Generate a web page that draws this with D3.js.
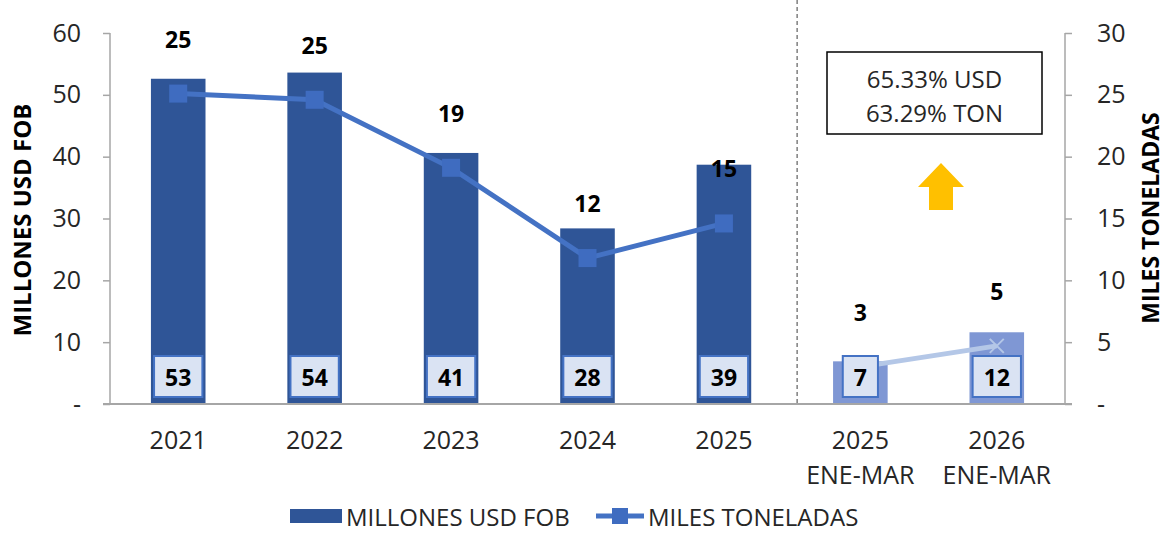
<!DOCTYPE html>
<html>
<head>
<meta charset="utf-8">
<script src="https://cdn.jsdelivr.net/npm/d3@7"></script>
<style>
  body { margin: 0; background: #fff; }
  svg { font-family: "Open Sans", sans-serif; }
</style>
</head>
<body>
<svg id="chart"></svg>
<script>
// Data
const categories = ["2021", "2022", "2023", "2024", "2025", "2025|ENE-MAR", "2026|ENE-MAR"];
const usdFob = [52.6, 53.6, 40.6, 28.4, 38.7, 6.9, 11.6];      // millones USD FOB
const tons = [25.1, 24.6, 19.1, 11.8, 14.6, 3.0, 4.7];          // miles toneladas
const partial = [false, false, false, false, false, true, true]; // ENE-MAR periods
const leftTicks = [0, 10, 20, 30, 40, 50, 60];
const rightTicks = [0, 5, 10, 15, 20, 25, 30];
const noteLines = ["65.33% USD", "63.29% TON"];

const width = 1168, height = 534;
const plot = { left: 110, right: 1065, top: 33, bottom: 404 };

const svg = d3.select("#chart").attr("width", width).attr("height", height);

const x = d3.scaleBand().domain(categories).range([plot.left, plot.right]).padding(0);
const yL = d3.scaleLinear().domain([0, 60]).range([plot.bottom, plot.top]);
const yR = d3.scaleLinear().domain([0, 30]).range([plot.bottom, plot.top]);
const cx = c => x(c) + x.bandwidth() / 2;
const barW = x.bandwidth() * 0.4;

const dark = "#2f5597", light = "#7f97d4", lineCol = "#4472c4", lineLight = "#b4c7e7";
const axisCol = "#a6a6a6";

// Axes
const fmtTick = d => d === 0 ? "-" : d;
const leftAxis = svg.append("g")
    .attr("transform", `translate(${plot.left},0)`)
    .call(d3.axisLeft(yL).tickValues(leftTicks).tickFormat(fmtTick).tickSize(7).tickPadding(22));
const rightAxis = svg.append("g")
    .attr("transform", `translate(${plot.right},0)`)
    .call(d3.axisRight(yR).tickValues(rightTicks).tickFormat(fmtTick).tickSize(7).tickPadding(25));
[leftAxis, rightAxis].forEach(g => {
    g.select(".domain").attr("stroke", axisCol).attr("stroke-width", 1.5)
        .attr("d", `M0,${plot.top}V${plot.bottom}`);
    g.selectAll(".tick line").attr("stroke", axisCol).attr("stroke-width", 1.5);
    g.selectAll(".tick text").attr("fill", "#262626").style("font-size", "25px")
        .style("font-family", "Open Sans");
});

// Category labels
const xLabels = svg.append("g");
categories.forEach(c => {
    const t = xLabels.append("text")
        .attr("x", cx(c))
        .attr("text-anchor", "middle")
        .attr("fill", "#262626")
        .style("font-size", "25px");
    c.split("|").forEach((part, i) => {
        t.append("tspan").attr("x", cx(c)).attr("y", 449 + i * 35).text(part);
    });
});

// Divider
svg.append("line")
    .attr("x1", x(categories[5]) + 5).attr("x2", x(categories[5]) + 5)
    .attr("y1", 0).attr("y2", plot.bottom)
    .attr("stroke", "#7f7f7f").attr("stroke-width", 1.5)
    .attr("stroke-dasharray", "4,3");

// Bars
svg.selectAll(".bar")
    .data(categories)
    .enter().append("rect")
    .attr("class", "bar")
    .attr("x", c => cx(c) - barW / 2)
    .attr("width", barW)
    .attr("y", (c, i) => yL(usdFob[i]))
    .attr("height", (c, i) => plot.bottom - yL(usdFob[i]))
    .attr("fill", (c, i) => partial[i] ? light : dark);

// Baseline
svg.append("line")
    .attr("x1", plot.left - 7).attr("x2", plot.right + 7)
    .attr("y1", plot.bottom).attr("y2", plot.bottom)
    .attr("stroke", axisCol).attr("stroke-width", 2);

// Line
const pts = categories.map((c, i) => [cx(c), yR(tons[i])]);
const line = d3.line();
svg.append("path")
    .datum(pts.filter((p, i) => !partial[i]))
    .attr("d", line)
    .attr("fill", "none").attr("stroke", lineCol).attr("stroke-width", 5);
svg.append("path")
    .datum(pts.filter((p, i) => partial[i]))
    .attr("d", line)
    .attr("fill", "none").attr("stroke", lineLight).attr("stroke-width", 5);

// Markers
pts.forEach((p, i) => {
    if (!partial[i]) {
        svg.append("rect")
            .attr("x", p[0] - 9).attr("y", p[1] - 9)
            .attr("width", 18).attr("height", 18)
            .attr("fill", "#3f6cc0");
    } else {
        const s = 7;
        svg.append("path")
            .attr("d", `M${p[0] - s},${p[1] - s}L${p[0] + s},${p[1] + s}M${p[0] - s},${p[1] + s}L${p[0] + s},${p[1] - s}`)
            .attr("stroke", lineLight).attr("stroke-width", 2);
    }
});

// Line value labels
pts.forEach((p, i) => {
    svg.append("text")
        .attr("x", p[0]).attr("y", p[1] - 55)
        .attr("text-anchor", "middle").attr("dominant-baseline", "central")
        .style("font-size", "23px").style("font-weight", "bold")
        .attr("fill", "#000")
        .text(d3.format(".0f")(tons[i]));
});

// Bar value labels (boxed)
categories.forEach((c, i) => {
    const g = svg.append("g");
    const t = g.append("text")
        .attr("x", cx(c)).attr("y", 377)
        .attr("text-anchor", "middle").attr("dominant-baseline", "central")
        .style("font-size", "23px").style("font-weight", "bold")
        .attr("fill", "#000")
        .text(d3.format(".0f")(usdFob[i]));
    const w = t.node().getComputedTextLength() + 22;
    g.insert("rect", "text")
        .attr("x", cx(c) - w / 2).attr("y", 356)
        .attr("width", w).attr("height", 41)
        .attr("fill", "#dae3f3").attr("stroke", "#4472c4").attr("stroke-width", 2);
});

// Axis titles
svg.append("text")
    .attr("transform", "translate(21,220) rotate(-90)")
    .attr("text-anchor", "middle").attr("dominant-baseline", "central")
    .style("font-size", "24px").style("font-weight", "bold")
    .text("MILLONES USD FOB");
svg.append("text")
    .attr("transform", "translate(1150,218) rotate(-90)")
    .attr("text-anchor", "middle").attr("dominant-baseline", "central")
    .style("font-size", "23px").style("font-weight", "bold")
    .text("MILES TONELADAS");

// Note box
svg.append("rect")
    .attr("x", 827).attr("y", 52).attr("width", 215).attr("height", 82)
    .attr("fill", "#fff").attr("stroke", "#000").attr("stroke-width", 1.5);
noteLines.forEach((s, i) => {
    svg.append("text")
        .attr("x", 934.5).attr("y", 78 + i * 34)
        .attr("text-anchor", "middle").attr("dominant-baseline", "central")
        .style("font-size", "24px").attr("fill", "#262626")
        .text(s);
});

// Up arrow
svg.append("polygon")
    .attr("points", "941,163 964,187 953,187 953,210 929,210 929,187 918,187")
    .attr("fill", "#ffc000");

// Legend
const legend = svg.append("g").attr("transform", "translate(0,516)");
legend.append("rect").attr("x", 290).attr("y", -7).attr("width", 52).attr("height", 14).attr("fill", dark);
legend.append("text").attr("x", 346).attr("dominant-baseline", "central")
    .style("font-size", "24px").attr("fill", "#262626").text("MILLONES USD FOB");
legend.append("line").attr("x1", 596).attr("x2", 644).attr("y1", 0).attr("y2", 0)
    .attr("stroke", lineCol).attr("stroke-width", 5);
legend.append("rect").attr("x", 612).attr("y", -8).attr("width", 16).attr("height", 16).attr("fill", "#3f6cc0");
legend.append("text").attr("x", 648).attr("dominant-baseline", "central")
    .style("font-size", "24px").attr("fill", "#262626").text("MILES TONELADAS");
</script>
</body>
</html>
